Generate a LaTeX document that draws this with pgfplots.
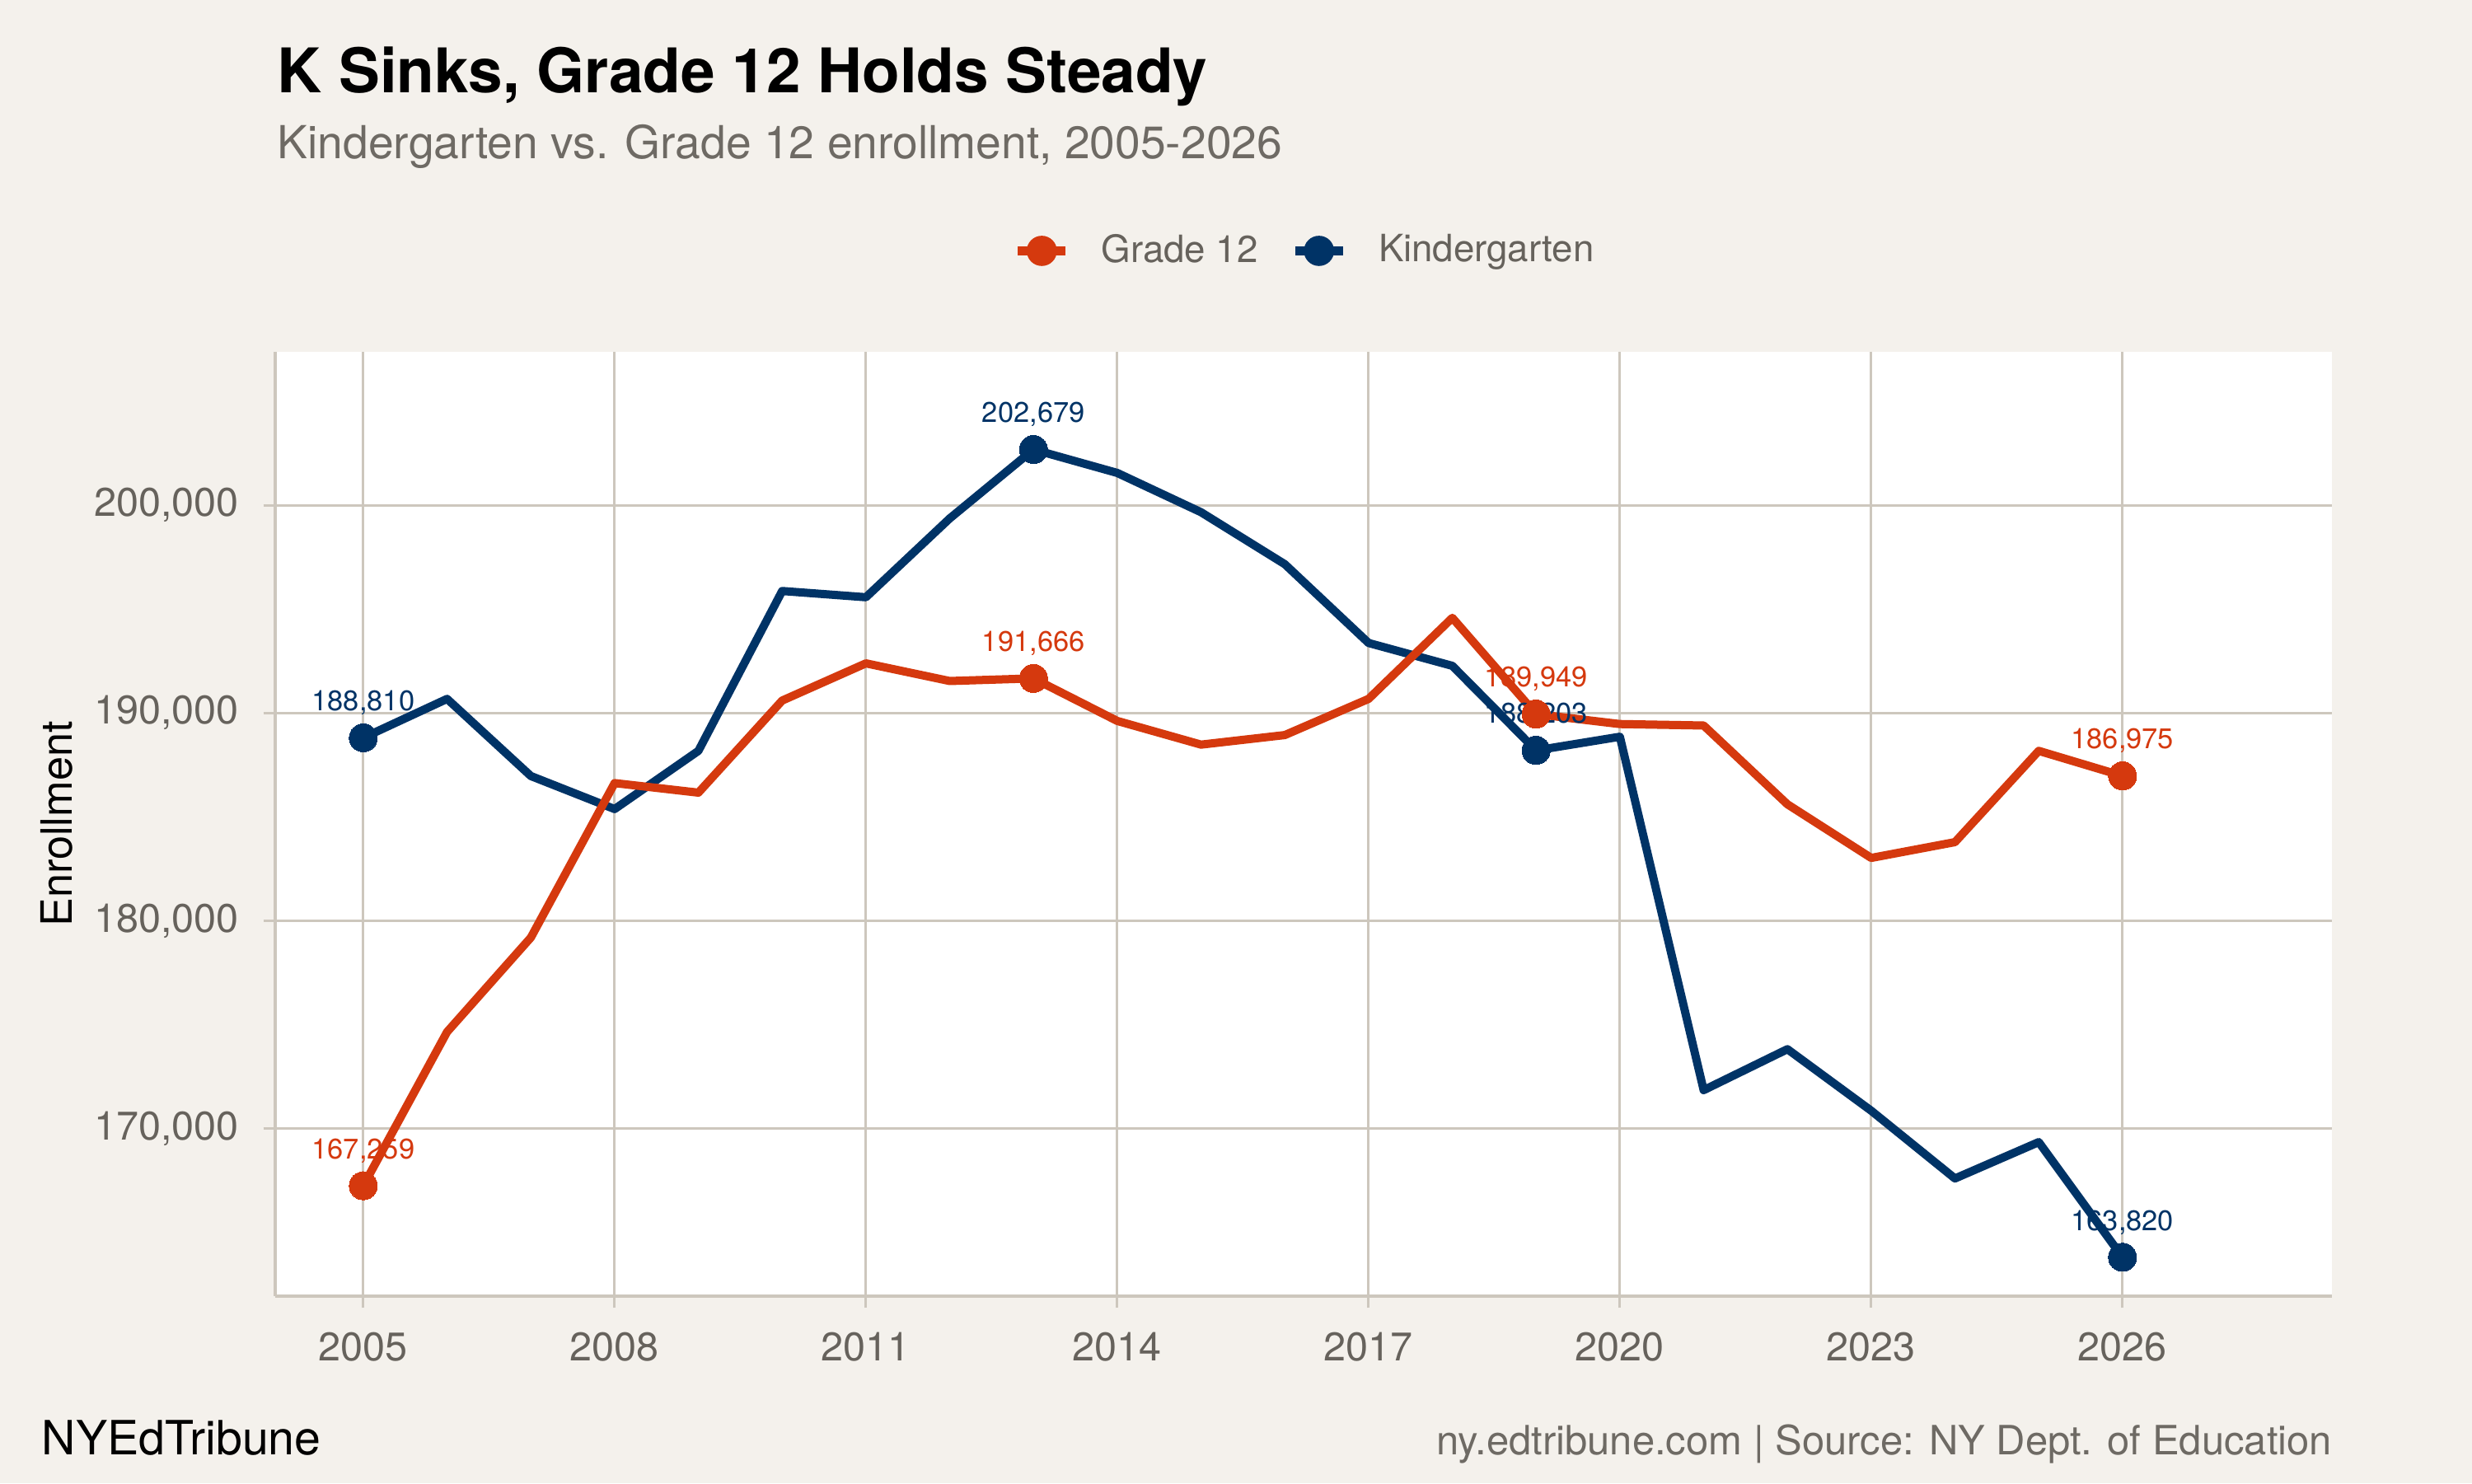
\documentclass[border=0pt]{standalone}
\usepackage{fontspec}
\setmainfont{TeX Gyre Heros}
\usepackage{pgfplots}
\usepackage{pgfplotstable}
\pgfplotsset{compat=1.18}

\definecolor{bg}{RGB}{244,241,236}
\definecolor{gridc}{RGB}{205,199,189}
\definecolor{gr12}{RGB}{213,57,14}
\definecolor{kind}{RGB}{0,51,102}
\definecolor{ticktxt}{RGB}{102,98,92}
\definecolor{subt}{RGB}{110,106,100}

% Enrollment by school year
\pgfplotstableread{
year g12 kg
2005 167259 188810
2006 174660 190680
2007 179200 186970
2008 186630 185380
2009 186170 188180
2010 190600 195870
2011 192390 195570
2012 191540 199360
2013 191666 202679
2014 189620 201550
2015 188480 199660
2016 188940 197160
2017 190680 193370
2018 194580 192270
2019 189949 188203
2020 189470 188860
2021 189400 171860
2022 185610 173830
2023 183030 170870
2024 183790 167610
2025 188180 169360
2026 186975 163820
}\enroll

% Years that carry a value label
\pgfplotstableread{
year g12 kg
2005 167259 188810
2013 191666 202679
2019 189949 188203
2026 186975 163820
}\labeled

\begin{document}
\begin{tikzpicture}
\fill[bg] (0,0) rectangle (720bp,432bp);
\useasboundingbox (0,0) rectangle (720bp,432bp);

\node[anchor=base west, inner sep=0, font=\bfseries\fontsize{18}{21}\selectfont]
  at (80.6bp,405.1bp) {K Sinks, Grade 12 Holds Steady};
\node[anchor=base west, inner sep=0, text=subt, font=\fontsize{13.3}{16}\selectfont]
  at (80.6bp,385.9bp) {Kindergarten vs. Grade 12 enrollment, 2005-2026};

\node[anchor=base west, inner sep=0, font=\fontsize{13.8}{16}\selectfont]
  at (12bp,8.4bp) {NYEdTribune};
\node[anchor=base east, inner sep=0, text=subt, font=\fontsize{11.8}{14}\selectfont]
  at (679.4bp,8.4bp) {ny.edtribune.com | Source: NY Dept. of Education};

\begin{axis}[
  at={(80.2bp,54.5bp)}, anchor=south west,
  scale only axis, width=599bp, height=275bp,
  xmin=2003.95, xmax=2028.5,
  ymin=161954, ymax=207372,
  axis background/.style={fill=white},
  axis x line*=bottom, axis y line*=left,
  axis line style={draw=gridc, line width=0.9bp},
  xtick={2005,2008,...,2026},
  ytick={170000,180000,190000,200000},
  scaled y ticks=false,
  grid=major,
  major grid style={draw=gridc, line width=0.7bp},
  tick align=outside,
  major tick length=3.5bp,
  tick style={draw=gridc, line width=0.7bp},
  /pgf/number format/assume math mode=true,
  /pgf/number format/fixed,
  /pgf/number format/precision=0,
  /pgf/number format/1000 sep={,},
  xticklabel style={/pgf/number format/1000 sep={}, anchor=north, inner sep=0,
    yshift=-7bp, text=ticktxt, font=\fontsize{11.7}{14}\selectfont},
  yticklabel style={anchor=east, inner sep=0, xshift=-7bp,
    text=ticktxt, font=\fontsize{11.7}{14}\selectfont},
  ylabel={Enrollment},
  ylabel style={at={(axis description cs:-0.1062,0.5)}, anchor=center,
    font=\fontsize{12.6}{15}\selectfont},
  legend columns=2,
  legend style={draw=none, fill=none, at={(0.5,1.107)}, anchor=center,
    font=\fontsize{11}{13}\selectfont, text=ticktxt,
    nodes={inner sep=0},
    /tikz/every odd column/.append style={column sep=9bp},
    /tikz/every even column/.append style={column sep=9.4bp}},
  legend image code/.code={
    \draw[#1, line width=2.8bp] (0bp,0bp) -- (13.9bp,0bp);
    \fill[#1] (6.95bp,0bp) circle (4.2bp);
  },
  every node near coord/.append style={anchor=base, inner sep=0, yshift=7.85bp,
    font=\fontsize{8.3}{10}\selectfont},
]
\addlegendimage{draw=gr12, fill=gr12}
\addlegendentry{Grade 12}
\addlegendimage{draw=kind, fill=kind}
\addlegendentry{Kindergarten}

% Kindergarten
\addplot[forget plot, kind, line width=2.4bp, line join=round, mark=none]
  table[x=year, y=kg] {\enroll};
\addplot[forget plot, kind, only marks, mark=*, mark size=4.1bp,
  mark options={fill=kind, draw=kind, line width=0pt},
  nodes near coords, point meta=y,
  every node near coord/.append style={text=kind}]
  table[x=year, y=kg] {\labeled};

% Grade 12
\addplot[forget plot, gr12, line width=2.4bp, line join=round, mark=none]
  table[x=year, y=g12] {\enroll};
\addplot[forget plot, gr12, only marks, mark=*, mark size=4.1bp,
  mark options={fill=gr12, draw=gr12, line width=0pt},
  nodes near coords, point meta=y,
  every node near coord/.append style={text=gr12}]
  table[x=year, y=g12] {\labeled};
\end{axis}
\end{tikzpicture}
\end{document}
